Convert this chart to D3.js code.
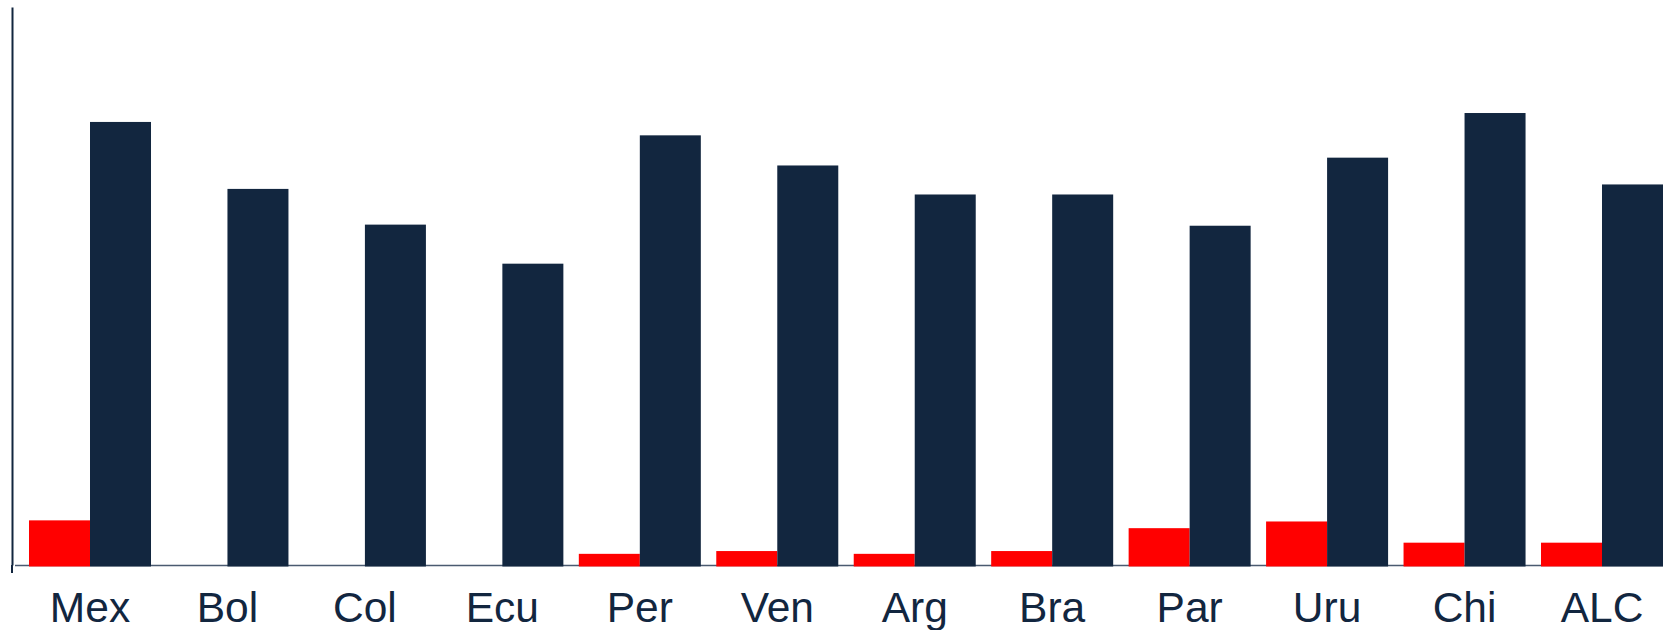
<!DOCTYPE html>
<html>
<head>
<meta charset="utf-8">
<script src="https://cdn.jsdelivr.net/npm/d3@7"></script>
<style>
  html, body { margin: 0; padding: 0; background: #ffffff; }
  svg { display: block; }
</style>
</head>
<body>
<svg id="chart" width="1675" height="630"></svg>
<script>
// ---- data ----
const categories = ["Mex", "Bol", "Col", "Ecu", "Per", "Ven", "Arg", "Bra", "Par", "Uru", "Chi", "ALC"];
const seriesRed  = [4.0, 0, 0, 0, 1.0, 1.25, 1.0, 1.25, 3.3, 3.9, 2.0, 2.0];
const seriesNavy = [39.7, 33.7, 30.5, 27.0, 38.5, 35.8, 33.2, 33.2, 30.4, 36.5, 40.5, 34.1];
const seriesKeys = ["red", "navy"];
const yMax = 50;

// ---- layout ----
const W = 1675, H = 630;
const baseY = 565, topY = 7;
const colors = { red: "#ff0000", navy: "#12263f" };

const svg = d3.select("#chart");

const x0 = d3.scaleBand()
  .domain(categories)
  .range([29, 1663])
  .paddingInner(0.1124)
  .paddingOuter(0);

const x1 = d3.scaleBand()
  .domain(seriesKeys)
  .range([0, x0.bandwidth()])
  .padding(0);

const y = d3.scaleLinear().domain([0, yMax]).range([baseY, topY]);

const rows = categories.map((c, i) => ({ cat: c, red: seriesRed[i], navy: seriesNavy[i] }));

// baseline (drawn behind bars)
svg.append("line")
  .attr("x1", 15).attr("x2", x0.range()[1])
  .attr("y1", baseY + 0.5).attr("y2", baseY + 0.5)
  .attr("stroke", "#4a5a70")
  .attr("stroke-width", 1.6);

// bars
const g = svg.append("g");
const groups = g.selectAll("g.grp")
  .data(rows)
  .join("g")
  .attr("class", "grp")
  .attr("transform", d => `translate(${x0(d.cat)},0)`);

groups.selectAll("rect")
  .data(d => seriesKeys.map(k => ({ key: k, value: d[k] })))
  .join("rect")
  .attr("x", d => x1(d.key))
  .attr("width", x1.bandwidth())
  .attr("y", d => y(d.value))
  .attr("height", d => Math.max(0, baseY + 1.5 - y(d.value)))
  .attr("fill", d => colors[d.key])
  .attr("display", d => d.value > 0 ? null : "none");

// left axis line
const yAxis = d3.axisLeft(y).tickValues([]).tickSizeOuter(0);
const yg = svg.append("g").attr("transform", "translate(12,0)").call(yAxis);
yg.select(".domain").attr("stroke", colors.navy).attr("stroke-width", 2);
svg.append("line")
  .attr("x1", 12).attr("x2", 12)
  .attr("y1", baseY).attr("y2", baseY + 8)
  .attr("stroke", colors.navy).attr("stroke-width", 2);

// category labels
const xAxis = d3.axisBottom(x0).tickSize(0).tickPadding(27);
const xg = svg.append("g").attr("transform", `translate(0,${baseY})`).call(xAxis);
xg.select(".domain").remove();
xg.selectAll("text")
  .attr("fill", colors.navy)
  .style("font-family", "'Liberation Sans', Arial, sans-serif")
  .style("font-size", "42.5px");
</script>
</body>
</html>
